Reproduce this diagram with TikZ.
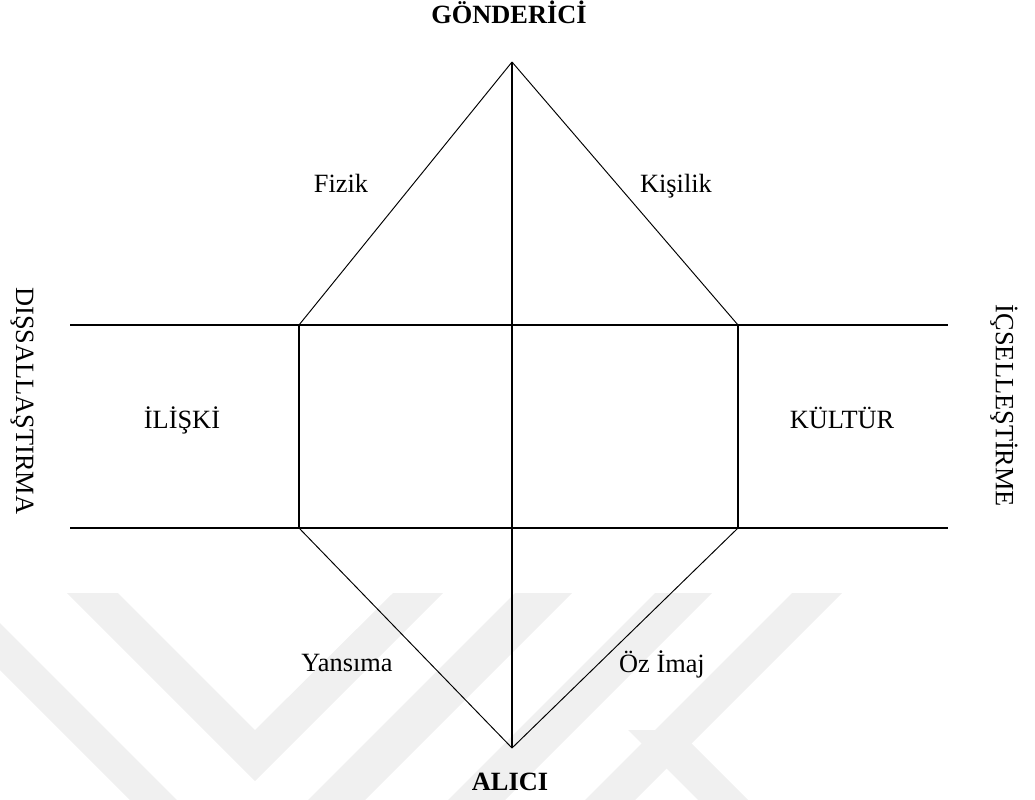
\documentclass[tikz,border=0pt]{standalone}
\usepackage{fontspec}
\setmainfont{Liberation Serif}
\tikzset{
  axis/.style={draw=black, line width=0.7pt},                        % cross lines
  face/.style={draw=black, line width=0.45pt},                       % prism sides
  lbl/.style={font=\fontsize{12.4}{14}\selectfont, inner sep=0pt, anchor=base},
  pole/.style={lbl, font=\fontsize{12.4}{14}\selectfont\bfseries},
  side/.style={font=\fontsize{12.4}{14}\selectfont, inner sep=0pt, rotate=-90},
  wm/.style={fill=black!6, draw=none},                               % watermark
}

\begin{document}
\begin{tikzpicture}[x=0.01654cm, y=-0.01654cm]
  \useasboundingbox (0,0) rectangle (1035,800);
  % watermark
  \fill[wm] (67,593) -- (118,593) -- (255,730) -- (393,593) -- (443,593) -- (255,781) -- cycle;
  \fill[wm] (0,623) -- (177,800) -- (130,800) -- (0,670) -- cycle;
  \fill[wm] (515,593) -- (572,593) -- (365,800) -- (308,800) -- cycle;
  \fill[wm] (655,593) -- (712,593) -- (505,800) -- (448,800) -- cycle;
  \fill[wm] (792,593) -- (842,593) -- (635,800) -- (585,800) -- cycle;
  \fill[wm] (628,730) -- (678,730) -- (748,800) -- (698,800) -- cycle;

  \coordinate (snd) at (512,62);
  \coordinate (rcv) at (512,748);
  \coordinate (tl)  at (299,325);
  \coordinate (tr)  at (738,325);
  \coordinate (bl)  at (299,528);
  \coordinate (br)  at (738,528);
  \coordinate (hl1) at (70,325);
  \coordinate (hr1) at (948,325);
  \coordinate (hl2) at (70,528);
  \coordinate (hr2) at (948,528);
  \foreach \u/\v in {hl1/hr1,hl2/hr2,snd/rcv,tl/bl,tr/br}
    \draw[axis] (\u)--(\v);
  \foreach \u/\v in {snd/tl,snd/tr,bl/rcv,br/rcv}
    \draw[face] (\u)--(\v);

  \node[pole] (gon) at (509,24)  {GÖNDERİCİ};
  \node[pole] (ali) at (510,790) {ALICI};
  \node[lbl]  (fiz) at (341,193) {Fizik};
  \node[lbl]  (kis) at (676,193) {Kişilik};
  \node[lbl]  (ili) at (182,428) {İLİŞKİ};
  \node[lbl]  (kul) at (842,428) {KÜLTÜR};
  \node[lbl]  (yan) at (347,671) {Yansıma};
  \node[lbl]  (ozi) at (662,672) {Öz İmaj};
  \node[side] (dis) at (22,401)  {DIŞSALLAŞTIRMA};
  \node[side] (ics) at (1004,406) {İÇSELLEŞTİRME};
\end{tikzpicture}
\end{document}
